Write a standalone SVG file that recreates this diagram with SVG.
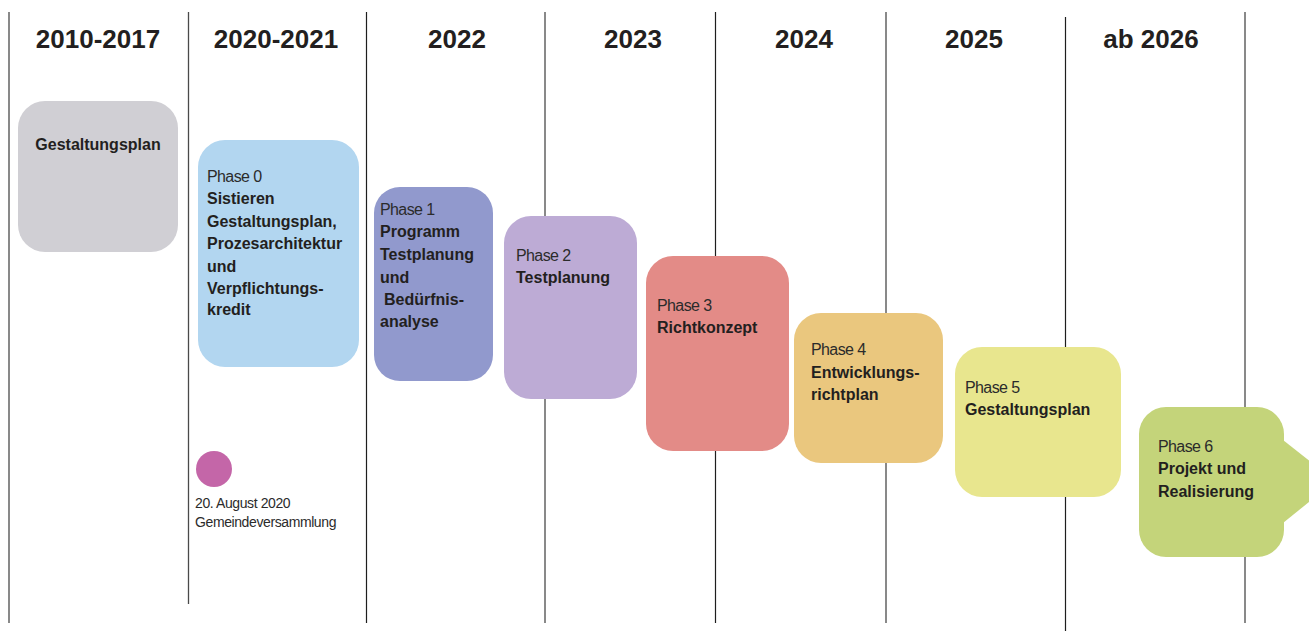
<svg xmlns="http://www.w3.org/2000/svg" width="1309" height="631" viewBox="0 0 1309 631">
  <style>
    .grid { stroke: #4a4a4a; stroke-width: 1.3; fill: none; }
    .grid-dark { stroke: #1e1e1e; stroke-width: 1.2; fill: none; }
    .year { font-family: "Liberation Sans", Arial, sans-serif; font-weight: bold; font-size: 26px; fill: #231f20; text-anchor: middle; }
    .phase { font-family: "Liberation Sans", Arial, sans-serif; font-size: 16px; fill: #2b2b2b; letter-spacing: -0.6px; }
    .title { font-family: "Liberation Sans", Arial, sans-serif; font-weight: bold; font-size: 16px; fill: #231f20; }
    .note { font-family: "Liberation Sans", Arial, sans-serif; font-size: 14px; fill: #2b2b2b; letter-spacing: -0.4px; }
  </style>
  <rect width="1309" height="631" fill="#ffffff"/>

  <!-- column dividers -->
  <g id="dividers">
    <line class="grid" x1="9" y1="12" x2="9" y2="623"/>
    <line class="grid" x1="188.5" y1="12" x2="188.5" y2="604"/>
    <line class="grid-dark" x1="366.5" y1="12" x2="366.5" y2="623"/>
    <line class="grid" x1="545" y1="12" x2="545" y2="623"/>
    <line class="grid-dark" x1="715.5" y1="12" x2="715.5" y2="623"/>
    <line class="grid" x1="886" y1="12" x2="886" y2="623"/>
    <line class="grid-dark" x1="1065.5" y1="17" x2="1065.5" y2="631"/>
    <line class="grid" x1="1245" y1="12" x2="1245" y2="623"/>
  </g>

  <!-- year headings -->
  <g id="years">
    <text class="year" x="98" y="48">2010-2017</text>
    <text class="year" x="276" y="48">2020-2021</text>
    <text class="year" x="457" y="48">2022</text>
    <text class="year" x="633" y="48">2023</text>
    <text class="year" x="804" y="48">2024</text>
    <text class="year" x="974" y="48">2025</text>
    <text class="year" x="1151" y="48">ab 2026</text>
  </g>

  <g id="node-gestaltungsplan-alt">
    <rect x="18" y="101" width="160" height="151" rx="27" fill="#d0cfd4"/>
    <text class="title" x="98" y="150" text-anchor="middle">Gestaltungsplan</text>
  </g>

  <g id="node-phase0">
    <rect x="198" y="140" width="161" height="227" rx="27" fill="#b2d6f0"/>
    <text class="phase" x="207" y="182">Phase 0</text>
    <text class="title" x="207" y="204">Sistieren</text>
    <text class="title" x="207" y="227">Gestaltungsplan,</text>
    <text class="title" x="207" y="249">Prozesarchitektur</text>
    <text class="title" x="207" y="272">und</text>
    <text class="title" x="207" y="294">Verpflichtungs-</text>
    <text class="title" x="207" y="315">kredit</text>
  </g>

  <g id="node-phase1">
    <rect x="374" y="187" width="119" height="194" rx="26" fill="#9199cd"/>
    <text class="phase" x="380" y="215">Phase 1</text>
    <text class="title" x="380" y="237">Programm</text>
    <text class="title" x="380" y="260">Testplanung</text>
    <text class="title" x="380" y="283">und</text>
    <text class="title" x="384" y="305">Bedürfnis-</text>
    <text class="title" x="380" y="327">analyse</text>
  </g>

  <g id="node-phase2">
    <rect x="504" y="216" width="133" height="183" rx="27" fill="#bdabd5"/>
    <text class="phase" x="516" y="261">Phase 2</text>
    <text class="title" x="516" y="283">Testplanung</text>
  </g>

  <g id="node-phase3">
    <rect x="646" y="256" width="143" height="195" rx="27" fill="#e38b87"/>
    <text class="phase" x="657" y="311">Phase 3</text>
    <text class="title" x="657" y="333">Richtkonzept</text>
  </g>

  <g id="node-phase4">
    <rect x="794" y="313" width="149" height="150" rx="27" fill="#eac77e"/>
    <text class="phase" x="811" y="355">Phase 4</text>
    <text class="title" x="811" y="378">Entwicklungs-</text>
    <text class="title" x="811" y="400">richtplan</text>
  </g>

  <g id="node-phase5">
    <rect x="955" y="347" width="166" height="150" rx="27" fill="#e8e68e"/>
    <text class="phase" x="965" y="393">Phase 5</text>
    <text class="title" x="965" y="415">Gestaltungsplan</text>
  </g>

  <g id="node-phase6">
    <rect x="1139" y="407" width="145" height="150" rx="27" fill="#c4d47a"/>
    <polygon points="1283,440 1335,481 1283,523" fill="#c4d47a"/>
    <text class="phase" x="1158" y="452">Phase 6</text>
    <text class="title" x="1158" y="474">Projekt und</text>
    <text class="title" x="1158" y="497">Realisierung</text>
  </g>

  <g id="node-gemeindeversammlung">
    <circle cx="214" cy="469" r="18" fill="#c466a8"/>
    <text class="note" x="195" y="508">20. August 2020</text>
    <text class="note" x="195" y="527">Gemeindeversammlung</text>
  </g>
</svg>
